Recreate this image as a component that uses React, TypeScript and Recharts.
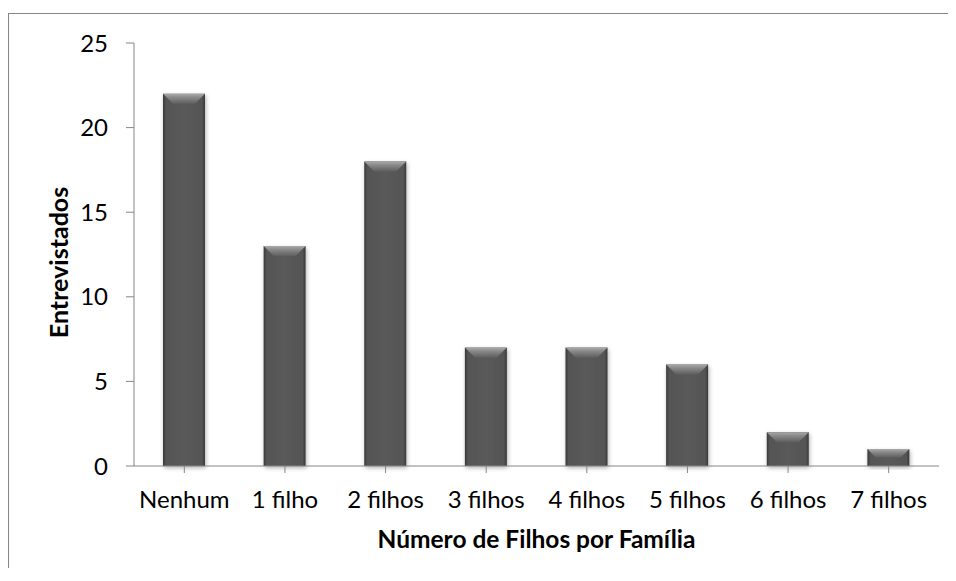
import React from 'react';
import { BarChart, Bar, XAxis, YAxis } from 'recharts';

// categorias e valores
const categorias = ['Nenhum', '1 filho', '2 filhos', '3 filhos', '4 filhos', '5 filhos', '6 filhos', '7 filhos'];
const entrevistados = [22, 13, 18, 7, 7, 6, 2, 1];
const yTicks = [0, 5, 10, 15, 20, 25];

const data = categorias.map((nome, i) => ({ nome, valor: entrevistados[i] }));

const FONT = 'Lato, "Open Sans", sans-serif';
const AXIS = '#868686';

// barra com bisel no topo, como no Excel
const BevelBar = (props: any) => {
  const { x, y, width, height } = props;
  if (!height || height <= 0) return null;
  const d = Math.min(10, height / 2);
  return (
    <g filter="url(#sombra)">
      <rect x={x} y={y} width={width} height={height} fill="url(#corpo)" />
      <polygon
        points={`${x},${y} ${x + width},${y} ${x + width - d},${y + d} ${x + d},${y + d}`}
        fill="url(#bisel)"
      />
    </g>
  );
};

const YTitle = (props: any) => {
  const { viewBox } = props;
  const cy = viewBox.y + viewBox.height / 2 + 8;
  return (
    <text
      x={59}
      y={cy}
      transform={`rotate(-90, 59, ${cy})`}
      textAnchor="middle"
      fontFamily={FONT}
      fontWeight="bold"
      fontSize={25}
      fill="#000"
    >
      Entrevistados
    </text>
  );
};

const XTitle = (props: any) => {
  const { viewBox } = props;
  return (
    <text
      x={viewBox.x + viewBox.width / 2}
      y={viewBox.y + 82}
      textAnchor="middle"
      fontFamily={FONT}
      fontWeight="bold"
      fontSize={24.5}
      fill="#000"
    >
      Número de Filhos por Família
    </text>
  );
};

export default function App() {
  return (
    <div style={{ position: 'relative', marginTop: 5, width: 940, height: 555 }}>
      {/* moldura do gráfico (só as bordas esquerda e superior aparecem) */}
      <div style={{ position: 'absolute', left: 0, top: 0, width: 948, height: 1, background: AXIS }} />
      <div style={{ position: 'absolute', left: 0, top: 0, width: 1, height: 568, background: AXIS }} />
      <div style={{ position: 'absolute', left: 1, top: 1 }}>
        <BarChart
          width={939}
          height={554}
          data={data}
          margin={{ top: 29, right: 9, left: 0, bottom: 0 }}
          barSize={42}
        >
          <defs>
            <linearGradient id="corpo" x1="0" y1="0" x2="1" y2="0">
              <stop offset="0" stopColor="#383838" />
              <stop offset="0.07" stopColor="#545454" />
              <stop offset="0.5" stopColor="#5a5a5a" />
              <stop offset="0.93" stopColor="#545454" />
              <stop offset="1" stopColor="#383838" />
            </linearGradient>
            <linearGradient id="bisel" x1="0" y1="0" x2="0" y2="1">
              <stop offset="0" stopColor="#aaaaaa" />
              <stop offset="0.35" stopColor="#8a8a8a" />
              <stop offset="1" stopColor="#5e5e5e" />
            </linearGradient>
            <filter id="sombra" x="-30%" y="-10%" width="160%" height="130%">
              <feDropShadow dx="1" dy="2" stdDeviation="2" floodColor="#000" floodOpacity="0.3" />
            </filter>
          </defs>
          <XAxis
            dataKey="nome"
            height={102}
            interval={0}
            stroke={AXIS}
            tickSize={7}
            tickMargin={18}
            tick={{ fill: '#000', fontSize: 24, fontFamily: FONT }}
            label={<XTitle />}
          />
          <YAxis
            width={125}
            domain={[0, 25]}
            ticks={yTicks}
            allowDecimals={false}
            stroke={AXIS}
            tickSize={8}
            tickMargin={18}
            tick={{ fill: '#000', fontSize: 24, fontFamily: FONT }}
            label={<YTitle />}
          />
          <Bar dataKey="valor" shape={<BevelBar />} isAnimationActive={false} />
        </BarChart>
      </div>
    </div>
  );
}
